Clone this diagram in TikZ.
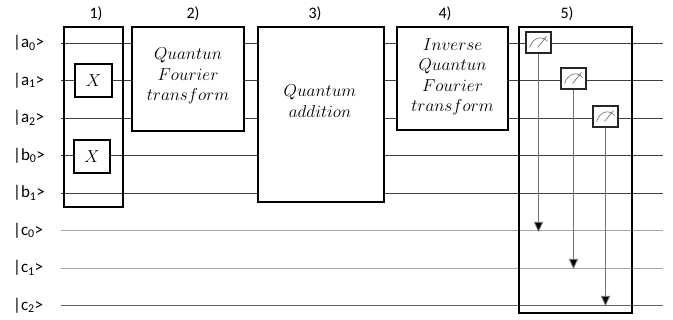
\documentclass[tikz,border=0pt]{standalone}
\usepackage{fontspec}
\setmainfont{Carlito}
\usetikzlibrary{arrows.meta}
\begin{document}
\begin{tikzpicture}[x=1pt,y=-1pt,
  wire/.style={line width=0.8pt,draw=black!75},
  cwire/.style={line width=0.9pt,draw=black!35},
  cwirelast/.style={line width=0.9pt,draw=black!60},
  stage/.style={draw=black,line width=1.5pt,inner sep=0pt},
  filledstage/.style={stage,fill=white},
  gatebox/.style={draw=black,line width=1.3pt,fill=white,inner sep=0pt,minimum width=37pt,minimum height=33pt,font=\fontsize{17.28}{17.28}\selectfont},
  meterbox/.style={draw=black!85,line width=1.4pt,fill=white,inner sep=0pt,minimum width=25pt,minimum height=21pt},
  qlabel/.style={anchor=west,inner sep=0pt,font=\fontsize{17}{17}\selectfont},
  steplabel/.style={inner sep=0pt,font=\fontsize{16}{16}\selectfont},
  boxtext/.style={align=center,font=\fontsize{17.28}{20.5}\selectfont},
  measarrow/.style={line width=0.8pt,draw=black!55,-{Triangle[width=9pt,length=10pt,fill=black]}},
  metersym/.style={line width=0.6pt,draw=black!60}
]
\useasboundingbox (0,0) rectangle (673,320);

% wire end points
\foreach \n/\y in {a0/43,a1/80.5,a2/118,b0/155.5,b1/193,c0/230.5,c1/268,c2/305.5}{
  \coordinate (s\n) at (61,\y);
  \coordinate (e\n) at (663,\y);
}

% labels
\node[qlabel] (la0) at (13,43) {|a\textsubscript{0}>};
\node[qlabel] (la1) at (13,80.5) {|a\textsubscript{1}>};
\node[qlabel] (la2) at (13,118) {|a\textsubscript{2}>};
\node[qlabel] (lb0) at (13,155.5) {|b\textsubscript{0}>};
\node[qlabel] (lb1) at (13,193) {|b\textsubscript{1}>};
\node[qlabel] (lc0) at (13,230.5) {|c\textsubscript{0}>};
\node[qlabel] (lc1) at (13,268) {|c\textsubscript{1}>};
\node[qlabel] (lc2) at (13,305.5) {|c\textsubscript{2}>};

% wires
\foreach \n in {a0,a1,a2,b0,b1}{ \draw[wire] (s\n) -- (e\n); }
\draw[cwire] (sc0) -- (ec0);
\draw[cwire] (sc1) -- (ec1);
\draw[cwirelast] (sc2) -- (ec2);

% step labels
\node[steplabel] (t1) at (96,14) {1)};
\node[steplabel] (t2) at (193,14) {2)};
\node[steplabel] (t3) at (315,14) {3)};
\node[steplabel] (t4) at (445,14) {4)};
\node[steplabel] (t5) at (567,14) {5)};

% stage 1
\node[stage,minimum width=59pt,minimum height=180pt] (box1) at (93.5,117) {};
\node[gatebox] (x1) at (93.5,80.5) {$X$};
\node[gatebox,minimum width=36pt] (x2) at (92,156.5) {$X$};

% stage 2
\node[filledstage,minimum width=112pt,minimum height=104pt] (box2) at (188,79) {};
\node[boxtext] (txt2) at (188,76) {$Quantun$\\$Fourier$\\$transform$};

% stage 3
\node[filledstage,minimum width=126pt,minimum height=175pt] (box3) at (321,114.5) {};
\node[boxtext] (txt3) at (320,101) {$Quantum$\\$addition$};

% stage 4
\node[filledstage,minimum width=111pt,minimum height=103pt] (box4) at (452.5,78.5) {};
\node[boxtext] (txt4) at (452.5,77) {$Inverse$\\$Quantun$\\$Fourier$\\$transform$};

% stage 5
\node[stage,minimum width=113pt,minimum height=286pt] (box5) at (575.5,170) {};
\node[meterbox] (m1) at (538.5,42.5) {};
\node[meterbox] (m2) at (573.5,78.5) {};
\node[meterbox] (m3) at (605.5,116.5) {};
\foreach \m in {m1,m2,m3}{
  \begin{scope}[shift={(\m.center)}]
    \draw[metersym] (-9,5) .. controls (-5,-6) and (4,-7) .. (9,-1);
    \draw[metersym] (-1,5) -- (8,-6);
  \end{scope}
}
\coordinate (k0) at (538.5,232);
\coordinate (k1) at (573.5,269);
\coordinate (k2) at (605.5,306);
\draw[measarrow] (m1.south) -- (k0);
\draw[measarrow] (m2.south) -- (k1);
\draw[measarrow] (m3.south) -- (k2);
\end{tikzpicture}
\end{document}
